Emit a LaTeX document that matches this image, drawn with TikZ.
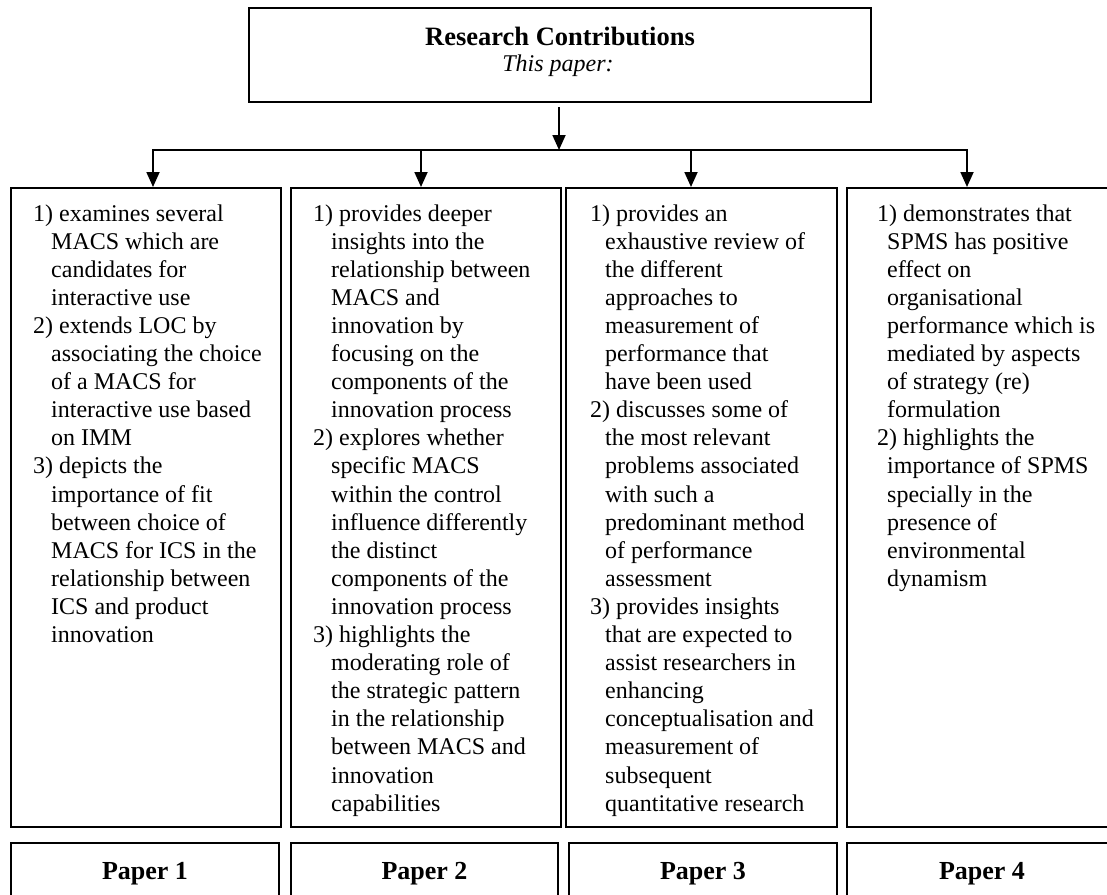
\documentclass[tikz,border=0pt]{standalone}
\usepackage{fontspec}
\setmainfont{Liberation Serif}
\usetikzlibrary{arrows.meta}
\newcommand{\hang}[1]{\hspace*{#1}}
\begin{document}
\begin{tikzpicture}[x=1pt,y=1pt,
  frame/.style={draw=black, line width=2pt, inner sep=0pt, outer sep=0pt, anchor=north west},
  body/.style={anchor=base west, inner sep=0pt, font=\fontsize{24}{28.1}\selectfont},
  paperlabel/.style={anchor=base, inner sep=0pt, font=\fontsize{26}{30}\selectfont\bfseries},
  link/.style={line width=1.8pt, line cap=rect},
  arrow/.style={line width=1.8pt, -{Triangle[width=13pt,length=15pt]}},
]
\clip (0,0) rectangle (1107,-894);
\fill[white] (0,0) rectangle (1107,-894);

% heading box
\node[frame, minimum width=622, minimum height=94] (top) at (249,-8) {};
\node[anchor=base, inner sep=0pt, font=\fontsize{26.5}{30}\selectfont\bfseries] (title) at (560,-45) {Research Contributions};
\node[anchor=base, inner sep=0pt, font=\fontsize{24}{28}\selectfont\itshape] (subtitle) at (558,-71) {This paper:};

% contribution boxes
\node[frame, minimum width=270, minimum height=639] (b1) at (11,-188) {};
\node[frame, minimum width=270, minimum height=639] (b2) at (291,-188) {};
\node[frame, minimum width=271, minimum height=639] (b3) at (566,-188) {};
\node[frame, minimum width=280, minimum height=639] (b4) at (847,-188) {};

% paper boxes
\node[frame, minimum width=268, minimum height=70] (p1) at (11,-843) {};
\node[frame, minimum width=267, minimum height=70] (p2) at (291,-843) {};
\node[frame, minimum width=268, minimum height=70] (p3) at (569,-843) {};
\node[frame, minimum width=280, minimum height=70] (p4) at (847,-843) {};
\node[paperlabel] (l1) at ([yshift=-36pt]p1.north) {Paper 1};
\node[paperlabel] (l2) at ([yshift=-36pt]p2.north) {Paper 2};
\node[paperlabel] (l3) at ([yshift=-36pt]p3.north) {Paper 3};
\node[paperlabel] (l4) at ([xshift=-5pt,yshift=-36pt]p4.north) {Paper 4};

% connectors
\coordinate (hub) at (559,-150);
\coordinate (j1) at (153,-150);
\coordinate (j2) at (421,-150);
\coordinate (j3) at (691,-150);
\coordinate (j4) at (967,-150);
\draw[arrow, shorten <=5pt] (hub |- top.south) -- (hub);
\draw[link] (j1) -- (j4);
\draw[arrow, shorten >=1pt] (j1) -- (j1 |- b1.north);
\draw[arrow, shorten >=1pt] (j2) -- (j2 |- b2.north);
\draw[arrow, shorten >=1pt] (j3) -- (j3 |- b3.north);
\draw[arrow, shorten >=1pt] (j4) -- (j4 |- b4.north);

% box texts
\node[body] (t1) at (33,-221) {\begin{tabular}[t]{@{}l@{}}
1) examines several\\
\hang{18pt}MACS which are\\
\hang{18pt}candidates for\\
\hang{18pt}interactive use\\
2) extends LOC by\\
\hang{18pt}associating the choice\\
\hang{18pt}of a MACS for\\
\hang{18pt}interactive use based\\
\hang{18pt}on IMM\\
3) depicts the\\
\hang{18pt}importance of fit\\
\hang{18pt}between choice of\\
\hang{18pt}MACS for ICS in the\\
\hang{18pt}relationship between\\
\hang{18pt}ICS and product\\
\hang{18pt}innovation
\end{tabular}};

\node[body] (t2) at (313,-221) {\begin{tabular}[t]{@{}l@{}}
1) provides deeper\\
\hang{18pt}insights into the\\
\hang{18pt}relationship between\\
\hang{18pt}MACS and\\
\hang{18pt}innovation by\\
\hang{18pt}focusing on the\\
\hang{18pt}components of the\\
\hang{18pt}innovation process\\
2) explores whether\\
\hang{18pt}specific MACS\\
\hang{18pt}within the control\\
\hang{18pt}influence differently\\
\hang{18pt}the distinct\\
\hang{18pt}components of the\\
\hang{18pt}innovation process\\
3) highlights the\\
\hang{18pt}moderating role of\\
\hang{18pt}the strategic pattern\\
\hang{18pt}in the relationship\\
\hang{18pt}between MACS and\\
\hang{18pt}innovation\\
\hang{18pt}capabilities
\end{tabular}};

\node[body] (t3) at (590,-221) {\begin{tabular}[t]{@{}l@{}}
1) provides an\\
\hang{15pt}exhaustive review of\\
\hang{15pt}the different\\
\hang{15pt}approaches to\\
\hang{15pt}measurement of\\
\hang{15pt}performance that\\
\hang{15pt}have been used\\
2) discusses some of\\
\hang{15pt}the most relevant\\
\hang{15pt}problems associated\\
\hang{15pt}with such a\\
\hang{15pt}predominant method\\
\hang{15pt}of performance\\
\hang{15pt}assessment\\
3) provides insights\\
\hang{15pt}that are expected to\\
\hang{15pt}assist researchers in\\
\hang{15pt}enhancing\\
\hang{15pt}conceptualisation and\\
\hang{15pt}measurement of\\
\hang{15pt}subsequent\\
\hang{15pt}quantitative research
\end{tabular}};

\node[body] (t4) at (877,-221) {\begin{tabular}[t]{@{}l@{}}
1) demonstrates that\\
\hang{10pt}SPMS has positive\\
\hang{10pt}effect on\\
\hang{10pt}organisational\\
\hang{10pt}performance which is\\
\hang{10pt}mediated by aspects\\
\hang{10pt}of strategy (re)\\
\hang{10pt}formulation\\
2) highlights the\\
\hang{10pt}importance of SPMS\\
\hang{10pt}specially in the\\
\hang{10pt}presence of\\
\hang{10pt}environmental\\
\hang{10pt}dynamism
\end{tabular}};
\end{tikzpicture}
\end{document}
